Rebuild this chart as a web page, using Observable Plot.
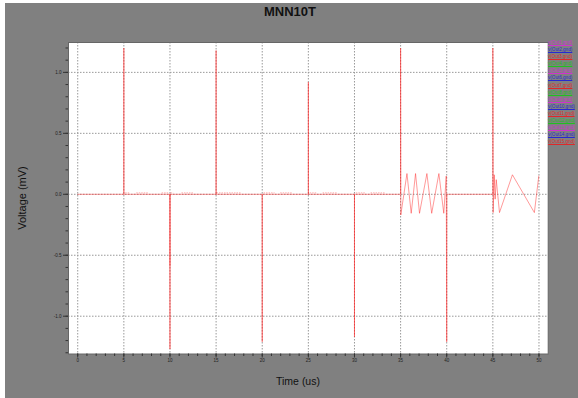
<!DOCTYPE html>
<html><head><meta charset="utf-8">
<script src="https://cdn.jsdelivr.net/npm/d3@7"></script>
<script src="https://cdn.jsdelivr.net/npm/@observablehq/plot@0.6"></script>
<style>
body{margin:0;background:#fff;}
#fig{position:absolute;left:0;top:0;width:578px;height:398px;overflow:hidden;font-family:"Liberation Sans",Arial,sans-serif;}
#bg{position:absolute;left:5px;top:3px;right:0;bottom:0;background:#808080;}
#chart{position:absolute;left:0;top:0;}
.title{position:absolute;left:264px;width:52px;top:4px;text-align:center;font-weight:bold;font-size:13px;color:#111;white-space:nowrap;}
.xlab{position:absolute;left:248px;width:100px;top:375px;text-align:center;font-size:10.5px;color:#111;white-space:nowrap;}
.ylab{position:absolute;left:-28px;width:100px;top:192px;text-align:center;font-size:11px;color:#111;transform:rotate(-90deg);white-space:nowrap;}
#legend{position:absolute;left:548px;top:39px;}
#legend div{font-size:4.6px;line-height:7.1px;height:7.1px;text-decoration:underline;white-space:nowrap;}
</style></head>
<body>
<div id="fig">
  <div id="bg"></div>
  <div id="chart"></div>
  <div class="title">MNN10T</div>
  <div class="xlab">Time (us)</div>
  <div class="ylab">Voltage (mV)</div>
  <div id="legend"></div>
</div>
<script>
// visible trace (time in us, voltage in mV)
const times = [0,5,5,5,10,10,10,15,15,15,20,20,20,25,25,25,30,30,30,
  35,35,35.02,35.69,36.15,36.62,37.05,37.85,38.37,39.15,39.68,39.95,40,40.02,
  45,45,45.03,45.15,45.25,45.37,45.72,47.12,49.5,49.98];
const volts = [0,0,1.2,0,0,-1.27,0,0,1.18,0,0,-1.21,0,0,0.92,0,0,-1.17,0,
  0,1.2,-0.17,0.17,-0.156,0.17,-0.156,0.17,-0.156,0.17,-0.156,0.15,-1.21,0,
  0,1.2,-0.15,0.16,-0.04,0.12,-0.15,0.16,-0.15,0.15];
// overlapping second trace at 10 us
const dipTimes = [10,10];
const dipVolts = [0,-0.58];
// small ripples near zero
const rippleStart = [5.2,6.4,9.15,10.1,11.3,15.1,20.2,22.0,25.2,26.6,30.2,31.8];
const rippleEnd   = [5.7,7.7,9.9,10.4,12.6,17.8,21.4,23.3,26.0,28.2,31.2,33.4];
const rippleLevel = 0.012;
// axes
const xMajor = [0,5,10,15,20,25,30,35,40,45,50];
const xMinor = d3.range(0,51);
const yMajor = [-1,-0.5,0,0.5,1];
const yLabels = ["-1.0","-0.5","0.0","0.5","1.0"];
const yMinor = d3.range(-13,13).map(d=>d/10);
// legend
const seriesNames = ["v(Out1,gnd)","v(Out2,gnd)","v(Out3,gnd)","v(Out4,gnd)","v(Out5,gnd)","v(Out6,gnd)","v(Out7,gnd)","v(Out8,gnd)","v(Out9,gnd)","v(Out10,gnd)","v(Out11,gnd)","v(Out12,gnd)","v(Out13,gnd)","v(Out14,gnd)","v(Out15,gnd)"];
const seriesColors = ["#d030d0","#2828d0","#e02828","#20c020","#d030d0","#2828d0","#e02828","#20c020","#d030d0","#2828d0","#e02828","#20c020","#d030d0","#2828d0","#e02828"];

const trace = times.map((t,i)=>({t, v: volts[i]}));
const dip = dipTimes.map((t,i)=>({t, v: dipVolts[i]}));
const ripples = rippleStart.map((a,i)=>({a, b: rippleEnd[i], y: rippleLevel}));
const lineColor = "#ff2020";

const chart = Plot.plot({
  width: 578, height: 398,
  marginLeft: 68, marginRight: 30.3, marginTop: 42, marginBottom: 44.5,
  x: {domain: [-1, 51]},
  y: {domain: [-1.31, 1.245]},
  style: {background: "transparent", fontFamily: "Liberation Sans, Arial, sans-serif", color: "#222"},
  marks: [
    Plot.frame({fill: "white"}),
    Plot.gridX(xMajor, {stroke: "#999", strokeOpacity: 1, strokeDasharray: "1.5,1.5"}),
    Plot.gridY(yMajor, {stroke: "#999", strokeOpacity: 1, strokeDasharray: "1.5,1.5"}),
    Plot.ruleY(ripples, {x1: "a", x2: "b", y: "y", stroke: lineColor, strokeOpacity: 0.35, strokeDasharray: "1.5,1"}),
    Plot.line(trace, {x: "t", y: "v", stroke: lineColor, strokeOpacity: 0.45, strokeWidth: 1}),
    Plot.line(dip, {x: "t", y: "v", stroke: lineColor, strokeOpacity: 0.35, strokeWidth: 1.2}),
    Plot.frame({stroke: "#666"}),
    Plot.axisX({ticks: xMinor, tickSize: 2.5, text: null, label: null, stroke: "#333"}),
    Plot.axisX({ticks: xMajor, tickSize: 4, tickPadding: 1, tickFormat: d => String(d), fontSize: 4.5, label: null, stroke: "#333"}),
    Plot.axisY({ticks: yMinor, tickSize: 2.5, text: null, label: null, stroke: "#333"}),
    Plot.axisY({ticks: yMajor, tickSize: 5, tickPadding: 2, tickFormat: d => yLabels[yMajor.indexOf(d)], fontSize: 4.5, label: null, stroke: "#333"})
  ]
});
document.getElementById("chart").appendChild(chart);

const leg = document.getElementById("legend");
seriesNames.forEach((n,i)=>{
  const d = document.createElement("div");
  d.textContent = n;
  d.style.color = seriesColors[i];
  leg.appendChild(d);
});
</script>
</body></html>
